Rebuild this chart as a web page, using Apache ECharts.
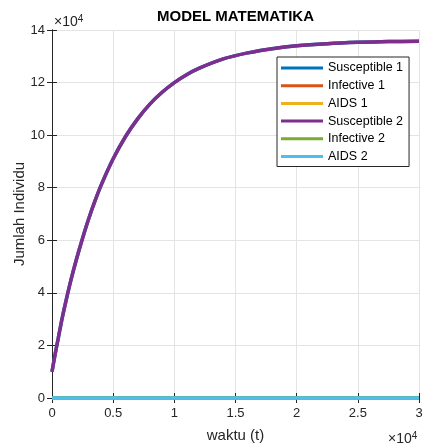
<!DOCTYPE html>
<html>
<head>
<meta charset="utf-8">
<script src="https://cdn.jsdelivr.net/npm/echarts@6/dist/echarts.min.js"></script>
<style>
html,body{margin:0;padding:0;background:#fff;}
#chart{width:423px;height:445px;}
</style>
</head>
<body>
<div id="chart"></div>
<script>
// time in units of 10^4
var waktu = [0, 0.025, 0.05, 0.075, 0.1, 0.15, 0.2, 0.25, 0.3, 0.35, 0.4, 0.5, 0.6, 0.7, 0.8, 0.9, 1.0, 1.1, 1.2, 1.4, 1.6, 1.8, 2.0, 2.25, 2.5, 2.75, 3.0];
// populations in units of 10^4
var susceptible1 = [1.0, 1.65, 2.25, 2.85, 3.4, 4.4, 5.28, 6.08, 6.82, 7.48, 8.08, 9.1, 9.94, 10.62, 11.18, 11.63, 12.0, 12.3, 12.54, 12.9, 13.13, 13.29, 13.4, 13.48, 13.53, 13.56, 13.57];
var infective1 = [0, 0, 0, 0, 0, 0, 0, 0, 0, 0, 0, 0, 0, 0, 0, 0, 0, 0, 0, 0, 0, 0, 0, 0, 0, 0, 0];
var aids1 = [0, 0, 0, 0, 0, 0, 0, 0, 0, 0, 0, 0, 0, 0, 0, 0, 0, 0, 0, 0, 0, 0, 0, 0, 0, 0, 0];
var susceptible2 = [1.0, 1.65, 2.25, 2.85, 3.4, 4.4, 5.28, 6.08, 6.82, 7.48, 8.08, 9.1, 9.94, 10.62, 11.18, 11.63, 12.0, 12.3, 12.54, 12.9, 13.13, 13.29, 13.4, 13.48, 13.53, 13.56, 13.57];
var infective2 = [0, 0, 0, 0, 0, 0, 0, 0, 0, 0, 0, 0, 0, 0, 0, 0, 0, 0, 0, 0, 0, 0, 0, 0, 0, 0, 0];
var aids2 = [0, 0, 0, 0, 0, 0, 0, 0, 0, 0, 0, 0, 0, 0, 0, 0, 0, 0, 0, 0, 0, 0, 0, 0, 0, 0, 0];
var seriesNames = ['Susceptible 1', 'Infective 1', 'AIDS 1', 'Susceptible 2', 'Infective 2', 'AIDS 2'];
var seriesData = [susceptible1, infective1, aids1, susceptible2, infective2, aids2];
var colors = ['#0072BD', '#D95319', '#EDB120', '#7E2F8E', '#77AC30', '#4DBEEE'];

function pairs(ys) { return waktu.map(function (t, i) { return [t, ys[i]]; }); }

var FONT = '"Liberation Sans", Arial, sans-serif';
var TXT = '#262626';

var chart = echarts.init(document.getElementById('chart'), null, {renderer: 'canvas'});
var axisCommon = {
  axisLine: {show: true, lineStyle: {color: TXT, width: 1}},
  axisTick: {show: true, inside: true, length: 5, lineStyle: {color: TXT, width: 1}},
};
chart.setOption({
  animation: false,
  color: colors,
  grid: {left: 52, right: 4, top: 30, bottom: 47, containLabel: false, outerBoundsMode: 'none'},
  legend: {
    data: seriesNames.map(function (n) { return {name: n, icon: 'rect'}; }),
    orient: 'vertical',
    left: 277, top: 57,
    padding: [4, 6, 3, 4],
    itemWidth: 42, itemHeight: 3, itemGap: 3.7,
    backgroundColor: '#fff',
    borderColor: TXT, borderWidth: 1,
    textStyle: {fontFamily: FONT, fontSize: 12.5, color: '#000', lineHeight: 14}
  },
  xAxis: [
    Object.assign({
      type: 'value', min: 0, max: 3, interval: 0.5, position: 'bottom',
      name: 'waktu (t)', nameLocation: 'middle', nameGap: 30, nameMoveOverlap: false,
      nameTextStyle: {fontFamily: FONT, fontSize: 15, color: TXT},
      axisLabel: {fontFamily: FONT, fontSize: 13, color: TXT, margin: 9},
      splitLine: {show: true, lineStyle: {color: '#e4e4e4', width: 1}}
    }, axisCommon),
    Object.assign({
      type: 'value', min: 0, max: 3, interval: 0.5, position: 'top',
      axisLabel: {show: false}, splitLine: {show: false}
    }, axisCommon)
  ],
  yAxis: [
    Object.assign({
      type: 'value', min: 0, max: 14, interval: 2, position: 'left',
      name: 'Jumlah Individu', nameLocation: 'middle', nameGap: 25, nameMoveOverlap: false,
      nameTextStyle: {fontFamily: FONT, fontSize: 15, color: TXT},
      axisLabel: {fontFamily: FONT, fontSize: 13, color: TXT, margin: 7},
      splitLine: {show: true, lineStyle: {color: '#e4e4e4', width: 1}}
    }, axisCommon),
    Object.assign({
      type: 'value', min: 0, max: 14, interval: 2, position: 'right',
      axisLabel: {show: false}, splitLine: {show: false}
    }, axisCommon)
  ],
  graphic: [
    {type: 'text', x: 235.5, y: 16.5,
     style: {text: 'MODEL MATEMATIKA', font: 'bold 15px ' + FONT, fill: '#000',
       textAlign: 'center', textVerticalAlign: 'middle'}},
    {type: 'text', left: 54, top: 14,
     style: {text: '×10{s|4}', font: '14px ' + FONT, fill: TXT,
       rich: {s: {fontSize: 10, fontFamily: FONT, verticalAlign: 'top', padding: [0, 0, 6, 0]}}}},
    {type: 'text', left: 388, top: 431,
     style: {text: '×10{s|4}', font: '14px ' + FONT, fill: TXT,
       rich: {s: {fontSize: 10, fontFamily: FONT, verticalAlign: 'top', padding: [0, 0, 6, 0]}}}}
  ],
  series: seriesData.map(function (d, i) {
    return {
      name: seriesNames[i], type: 'line', data: pairs(d),
      xAxisIndex: 0, yAxisIndex: 0,
      showSymbol: false, symbol: 'none', smooth: 0.3,
      lineStyle: {width: 3.5, color: colors[i]},
      itemStyle: {color: colors[i]}
    };
  })
});
</script>
</body>
</html>
